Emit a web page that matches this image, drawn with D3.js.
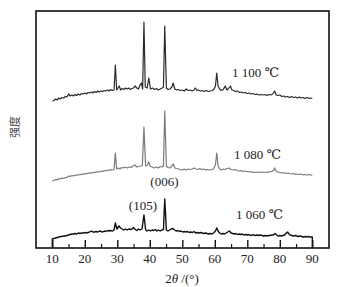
<!DOCTYPE html>
<html>
<head>
<meta charset="utf-8">
<script src="https://cdn.jsdelivr.net/npm/d3@7"></script>
<style>
  body { margin: 0; background: #fff; }
</style>
</head>
<body>
<svg id="chart" width="349" height="287"></svg>
<script>
// diffraction patterns, [2theta, intensity (a.u.)]
const s1100 = [[10,147],[10.5,147.5],[11,149],[11.5,148],[12,150],[12.5,149],[13,150.5],[13.5,150],[14,151.5],[14.5,151],
  [15,154],[15.5,152],[16,153],[16.5,152],[17,153.5],[17.5,152.5],[18,154],[18.5,153],[19,154.5],[19.5,154],[20,155],
  [20.5,154],[21,155.5],[21.5,155],[22,156],[22.5,155],[23,156.5],[23.5,155.5],[24,157],[24.5,156],[25,157],[25.5,156.5],
  [26,157.5],[26.5,157],[27,158],[27.5,157],[28,158.5],[28.5,157.5],[29,158],[29.4,183],[29.8,158],[30.2,160],[30.6,162],
  [31,158],[31.5,159.5],[32,158.5],[32.5,160],[33,159],[33.5,160],[34,158.5],[34.5,159.5],[35,160],[35.5,162],[36,160],
  [36.5,159],[37,163],[37.4,165],[37.8,159],[38.2,226],[38.6,161],[39.2,160],[39.7,170],[40.2,159],[40.8,160],[41.4,158.5],
  [42,159.5],[42.6,158],[43.2,159],[43.8,160],[44.2,161],[44.6,222],[45.1,160],[45.6,158.5],[46.2,159],[46.8,161],[47.2,165],
  [47.7,159],[48.2,158],[48.8,158.5],[49.4,157.5],[50,158],[50.6,157],[51.2,159],[51.8,157.5],[52.4,158],[53,157],
  [53.6,158],[54,160],[54.5,157.5],[55,158],[55.6,157],[56.2,157.5],[56.8,156.5],[57.4,157.5],[58,156.5],[58.6,157],
  [59.2,157.5],[59.8,159],[60.2,162],[60.6,175],[61,162],[61.5,159],[62,157.5],[62.6,158.5],[63.2,162],[63.7,158],
  [64.2,159.5],[64.8,162],[65.3,158],[65.8,157.5],[66.4,156.5],[67,157],[67.6,155.5],[68.2,156],[68.8,155],[69.4,155.5],
  [70,154.5],[70.6,155],[71.2,154],[71.8,154.5],[72.4,153.5],[73,154],[73.6,153],[74.2,153.5],[74.8,153],[75.4,153.5],
  [76,152.5],[76.6,153.5],[77.2,153],[77.8,154],[78.4,157],[78.9,153],[79.4,152.5],[80,153],[80.6,151.5],[81.2,152],
  [81.8,151],[82.4,151.5],[83,150.5],[83.6,151.5],[84.2,150.5],[84.8,151],[85.4,150],[86,151],[86.6,150],[87.2,150.5],
  [87.8,149.5],[88.4,150.5],[89,149.5],[89.5,150],[90,149.5]];

const s1080 = [[10,67],[10.5,67.5],[11,68.5],[11.5,68],[12,69.5],[12.5,69],[13,70],[13.5,69.5],[14,70.5],[14.5,70.5],
  [15,72],[15.5,71.5],[16,72.5],[16.5,72],[17,73],[17.5,72.5],[18,73.5],[18.5,73],[19,74],[19.5,73.5],[20,74.5],[20.5,74],
  [21,75],[21.5,74.5],[22,75.5],[22.5,75],[23,76],[23.5,75.5],[24,76.5],[24.5,76],[25,77],[25.5,76.5],[26,77.5],[26.5,77],
  [27,78],[27.5,77.5],[28,78.5],[28.5,78],[29,78.5],[29.4,95],[29.8,79],[30.3,80],[30.8,79],[31.3,80.5],[31.8,80],
  [32.4,81],[33,80],[33.6,81],[34.2,80.5],[34.8,82],[35.4,83],[36,81],[36.6,81.5],[37.2,82],[37.7,82.5],[38.2,121],
  [38.7,82],[39.2,82.5],[39.7,86],[40.2,81.5],[40.8,81],[41.4,80],[42,81],[42.6,80],[43.2,81.5],[43.8,81],[44.2,82],
  [44.6,137],[45.1,82],[45.6,80.5],[46.2,80],[46.8,82],[47.2,84],[47.7,80],[48.2,79.5],[48.8,79],[49.4,78.5],[50,78],
  [50.6,79],[51.2,78],[51.8,79],[52.4,78.5],[53,79],[53.6,80],[54.2,79],[54.8,78.5],[55.4,79.5],[56,78.5],[56.6,79],
  [57.2,78],[57.8,78.5],[58.4,78],[59,78.5],[59.6,79],[60.2,83],[60.6,95],[61,82],[61.5,79],[62,78],[62.6,79],[63.2,78.5],
  [63.8,79.5],[64.4,80],[65,78.5],[65.6,78],[66.2,78.5],[66.8,77.5],[67.4,77],[68,77.5],[68.6,76.5],[69.2,77],[69.8,76.5],
  [70.4,76],[71,76.5],[71.6,75.5],[72.2,76],[72.8,75.5],[73.4,76],[74,75.5],[74.6,76],[75.2,75.5],[75.8,76],[76.4,75.5],
  [77,76.5],[77.6,76.5],[78.1,78],[78.4,80],[78.8,77],[79.4,76],[80,75.5],[80.6,75],[81.2,75.5],[81.8,74.5],[82.4,75],
  [83,74.5],[83.6,74],[84.2,74.5],[84.8,73.5],[85.4,74],[86,73.5],[86.6,74],[87.2,73],[87.8,73.5],[88.4,73],[89,73.5],
  [89.5,73],[90,72.5]];

const s1060 = [[10,0],[10,9],[10.5,9.5],[11,10],[11.5,10.5],[12,11],[12.5,11.5],[13,11.5],[13.5,12],[14,12],[14.5,12.5],
  [15,13],[15.5,13.5],[16,14],[16.5,14],[17,14.5],[17.5,14],[18,15],[18.5,14.5],[19,15],[19.5,15],[20,15.5],[20.5,15],
  [21,15.5],[21.5,16],[22,17],[22.5,16],[23,16],[23.5,16.5],[24,16],[24.5,17],[25,16.5],[25.5,16],[26,17],[26.5,16.5],
  [27,17.5],[27.5,17],[28,17.5],[28.5,17],[29,18],[29.4,25],[29.9,19],[30.5,22],[31,20],[31.5,19],[32,18],[32.5,19],
  [33,18],[33.5,19],[34,18.5],[34.5,19],[35,20.5],[35.5,18.5],[36,17.5],[36.5,19],[37,18],[37.6,19],[38.2,33],[38.7,18.5],
  [39.2,17],[39.7,18],[40.2,17],[40.7,18],[41.2,17.5],[41.7,18.5],[42.2,17],[42.7,18],[43.2,17],[43.7,18],[44.2,18.5],
  [44.6,49],[45.1,18],[45.6,17],[46.1,18],[46.6,19],[47.1,19.5],[47.6,18],[48.1,17],[48.6,17.5],[49.1,16.5],[49.6,17],
  [50.1,16],[50.6,16.5],[51.1,16],[51.6,16.5],[52.1,15.5],[52.6,16],[53.1,15.5],[53.6,16.5],[54.1,15],[54.6,15.5],
  [55.1,15],[55.6,15.5],[56.1,15],[56.6,14.5],[57.1,15],[57.6,14.5],[58.1,14],[58.6,14.5],[59.1,14],[59.6,15],[60.2,17],
  [60.6,20],[61,17],[61.5,15],[62,14],[62.5,14.5],[63,14],[63.5,15],[64,16],[64.5,17],[65,15],[65.5,14.5],[66,14],
  [66.5,14.5],[67,13.5],[67.5,14],[68,13.5],[68.5,14],[69,13],[69.5,13.5],[70,13],[70.5,13.5],[71,12.5],[71.5,13],
  [72,13],[72.5,12.5],[73,13],[73.5,12.5],[74,13],[74.5,12.5],[75,12],[75.5,12.5],[76,12],[76.5,12.5],[77,12.5],
  [77.5,13],[78,13],[78.5,14.5],[79,13],[79.5,12],[80,12.5],[80.5,12],[81,12.5],[81.5,13],[82,15],[82.4,16],[82.8,14],
  [83.2,13],[83.7,12.5],[84.2,12],[84.7,12.5],[85.2,12],[85.7,11.5],[86.2,12],[86.7,11.5],[87.2,11],[87.7,11.5],
  [88.2,11],[88.7,11.5],[89.2,11],[89.6,11],[90,11],[90,0]];

const majorTicks = [10, 20, 30, 40, 50, 60, 70, 80, 90];
const minorTicks = [15, 25, 35, 45, 55, 65, 75, 85];
const seriesNames = ["1 100 ℃", "1 080 ℃", "1 060 ℃"];
const seriesLabelY = [171, 89, 29];
const peakLabels = ["(006)", "(105)"];

const serif = "'Liberation Serif', 'DejaVu Serif', serif";
const padLeft = 36, padRight = 329, padTop = 11, padBottom = 248;

const svg = d3.select("#chart");

let x = d3.scaleLinear().domain([10, 90]).range([52.3, 312.3]);
let y = d3.scaleLinear().domain([0, 237]).range([padBottom, padTop]);

// frame
svg.append("rect")
    .attr("x", padLeft).attr("y", padTop)
    .attr("width", padRight - padLeft).attr("height", padBottom - padTop)
    .attr("fill", "none").attr("stroke", "#111").attr("stroke-width", 1.6);

// inward ticks
svg.append("g")
    .attr("transform", "translate(0," + padBottom + ")")
    .call(d3.axisTop(x).tickValues(majorTicks).tickSize(8).tickFormat(""))
    .call(g => g.select(".domain").remove())
    .call(g => g.selectAll("line").attr("stroke", "#111").attr("stroke-width", 1.4));
svg.append("g")
    .attr("transform", "translate(0," + padBottom + ")")
    .call(d3.axisTop(x).tickValues(minorTicks).tickSize(4).tickFormat(""))
    .call(g => g.select(".domain").remove())
    .call(g => g.selectAll("line").attr("stroke", "#111").attr("stroke-width", 1.2));

// tick labels
svg.append("g").selectAll("text")
    .data(majorTicks)
    .enter().append("text")
    .attr("x", d => x(d))
    .attr("y", 263)
    .attr("text-anchor", "middle")
    .attr("font-family", serif)
    .attr("font-size", 13)
    .attr("fill", "#222")
    .text(d => d);

// axis titles
let xt = svg.append("text").attr("x", 182).attr("y", 283).attr("text-anchor", "middle")
    .attr("font-family", serif).attr("font-size", 13).attr("fill", "#222");
xt.append("tspan").text("2");
xt.append("tspan").attr("font-style", "italic").text("θ");
xt.append("tspan").text(" /(°)");

svg.append("text")
    .attr("transform", "translate(19,127)rotate(-90)")
    .attr("text-anchor", "middle")
    .attr("font-size", 11)
    .attr("fill", "#444")
    .attr("font-family", "'Noto Sans CJK SC', sans-serif")
    .text("强度");

// curves
let line = d3.line().x(d => x(d[0])).y(d => y(d[1]));
let curves = [
    {data: s1100, color: "#2b2b2b", w: 1.2},
    {data: s1080, color: "#7a7a7a", w: 1.2},
    {data: s1060, color: "#111", w: 1.4}
];
svg.selectAll("path.curve")
    .data(curves)
    .enter().append("path")
    .attr("class", "curve")
    .attr("d", d => line(d.data))
    .attr("fill", "none")
    .attr("stroke", d => d.color)
    .attr("stroke-width", d => d.w)
    .attr("stroke-linejoin", "round");

// series labels
svg.append("g").selectAll("text")
    .data(seriesNames)
    .enter().append("text")
    .attr("x", (d, i) => x(72.5) + i * 2)
    .attr("y", (d, i) => y(seriesLabelY[i]))
    .attr("text-anchor", "middle")
    .attr("font-family", serif)
    .attr("font-size", 13)
    .attr("fill", "#222")
    .text(d => d);

// peak labels
svg.append("text").attr("x", x(44.5)).attr("y", y(62)).attr("text-anchor", "middle")
    .attr("font-family", serif).attr("font-size", 13).attr("fill", "#222").text(peakLabels[0]);
svg.append("text").attr("x", x(38.2) - 1).attr("y", y(38)).attr("text-anchor", "middle")
    .attr("font-family", serif).attr("font-size", 13).attr("fill", "#222").text(peakLabels[1]);
</script>
</body>
</html>
